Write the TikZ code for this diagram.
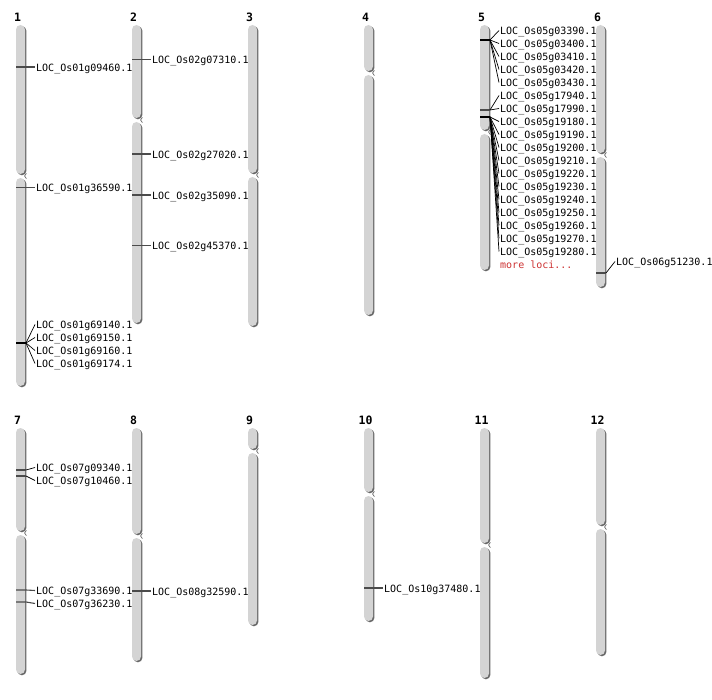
\documentclass[tikz,border=0pt]{standalone}
\usepackage{fontspec}
\setmonofont{DejaVu Sans Mono}
\definecolor{chrfill}{RGB}{212,212,212}
\definecolor{chrshadow}{RGB}{105,105,105}
\definecolor{tickc}{RGB}{75,75,75}
\definecolor{morered}{RGB}{205,50,50}
\newcommand\chrarm[3]{%
  \fill[chrshadow, rounded corners=4.5pt] (#1+1.4,#2+1.3) rectangle (#1+10.4,#3+1.3);
  \fill[chrfill, rounded corners=4.5pt] (#1,#2) rectangle (#1+9,#3);
}
\newcommand\chromo[5]{% name, x, top, cen, bottom
  \node[chrnum] (num#1) at (#2+1.5,#3-8) {#1};
  \chrarm{#2}{#3}{#4-2}
  \chrarm{#2}{#4+2}{#5}
  \draw[chrshadow, line width=0.7pt] (#2+10.4,#4-2.6) -- (#2+8.6,#4) -- (#2+10.4,#4+2.6);
}
\begin{document}
\begin{tikzpicture}[x=1pt,y=-1pt,
  chrnum/.style={anchor=center, inner sep=0pt, font=\ttfamily\bfseries\fontsize{11.5}{12}\selectfont},
  loclab/.style={anchor=west, inner xsep=1pt, inner ysep=0pt, text height=8.6pt, text depth=0pt,
                 font=\ttfamily\fontsize{10}{12}\selectfont},
  tickl/.style={draw=tickc, line width=1.1pt},
  multitick/.style={draw=black, line width=2pt},
  fan/.style={draw=black, line width=0.7pt}]
\useasboundingbox (0,0) rectangle (712,700);
\fill[white] (0,0) rectangle (712,700);

% ---------- chromosomes, row 1 ----------
\chromo{1}{16}{25}{176}{386}
\chromo{2}{132}{25}{120}{323}
\chromo{3}{248}{25}{175}{326}
\chromo{4}{364}{25}{73}{315}
\chromo{5}{480}{25}{132}{270}
\chromo{6}{596}{25}{155}{287}
% ---------- chromosomes, row 2 ----------
\chromo{7}{16}{428}{533}{674}
\chromo{8}{132}{428}{536}{661}
\chromo{9}{248}{428}{451}{625}
\chromo{10}{364}{428}{494}{621}
\chromo{11}{480}{428}{545}{678}
\chromo{12}{596}{428}{527}{655}

% ---------- chromosome 1 ----------
\coordinate (c1a) at (16,67);
\node[loclab] (l1a) at (35,67) {LOC\_Os01g09460.1};
\draw[tickl] (c1a) -- (l1a.west);
\coordinate (c1b) at (16,187.5);
\node[loclab] (l1b) at (35,187.5) {LOC\_Os01g36590.1};
\draw[tickl] (c1b) -- (l1b.west);
\coordinate (c1c) at (16,343);
\coordinate (c1cr) at (26,343);
\draw[multitick] (c1c) -- (c1cr);
\foreach \g [count=\i from 0] in {69140,69150,69160,69174}{
  \node[loclab] (l1c\i) at (35,324.5+13*\i) {LOC\_Os01g\g.1};
  \draw[fan] (c1cr) -- (l1c\i.west);
}

% ---------- chromosome 2 ----------
\foreach \t/\g [count=\i] in {59.5/07310,154/27020,195/35090,245.5/45370}{
  \coordinate (c2\i) at (132,\t);
  \node[loclab] (l2\i) at (151,\t) {LOC\_Os02g\g.1};
  \draw[tickl] (c2\i) -- (l2\i.west);
}

% ---------- chromosome 5 ----------
\coordinate (c5a) at (480,40);   \coordinate (c5ar) at (490,40);
\coordinate (c5b) at (480,110);  \coordinate (c5br) at (490,110);
\coordinate (c5c) at (480,117);  \coordinate (c5cr) at (490,117);
\draw[multitick] (c5a) -- (c5ar);
\draw[tickl] (c5b) -- (c5br);
\draw[multitick] (c5c) -- (c5cr);
\foreach \g [count=\i from 0] in {03390,03400,03410,03420,03430,17940,17990,19180,19190,19200,19210,19220,19230,19240,19250,19260,19270,19280}{
  \node[loclab] (l5\i) at (499,30.5+13*\i) {LOC\_Os05g\g.1};
}
\foreach \i in {0,...,4}{\draw[fan] (c5ar) -- (l5\i.west);}
\foreach \i in {5,6}{\draw[fan] (c5br) -- (l5\i.west);}
\foreach \i in {7,...,17}{\draw[fan] (c5cr) -- (l5\i.west);}
\node[loclab, text=morered] (l5more) at (499,264.5) {more loci...};

% ---------- chromosome 6 ----------
\coordinate (c6a) at (596,273); \coordinate (c6ar) at (606,273);
\node[loclab] (l6a) at (615,261.5) {LOC\_Os06g51230.1};
\draw[tickl] (c6a) -- (c6ar);
\draw[fan] (c6ar) -- (l6a.west);

% ---------- chromosome 7 ----------
\coordinate (c7a) at (16,470); \coordinate (c7ar) at (26,470);
\coordinate (c7b) at (16,476); \coordinate (c7br) at (26,476);
\node[loclab] (l7a) at (35,467.5) {LOC\_Os07g09340.1};
\node[loclab] (l7b) at (35,480.5) {LOC\_Os07g10460.1};
\draw[tickl] (c7a) -- (c7ar); \draw[fan] (c7ar) -- (l7a.west);
\draw[tickl] (c7b) -- (c7br); \draw[fan] (c7br) -- (l7b.west);
\coordinate (c7c) at (16,590); \coordinate (c7cr) at (26,590);
\coordinate (c7d) at (16,602); \coordinate (c7dr) at (26,602);
\node[loclab] (l7c) at (35,590.5) {LOC\_Os07g33690.1};
\node[loclab] (l7d) at (35,603.5) {LOC\_Os07g36230.1};
\draw[tickl] (c7c) -- (c7cr) -- (l7c.west);
\draw[tickl] (c7d) -- (c7dr) -- (l7d.west);

% ---------- chromosome 8 ----------
\coordinate (c8a) at (132,591);
\node[loclab] (l8a) at (151,591) {LOC\_Os08g32590.1};
\draw[tickl] (c8a) -- (l8a.west);

% ---------- chromosome 10 ----------
\coordinate (c10a) at (364,588);
\node[loclab] (l10a) at (383,588) {LOC\_Os10g37480.1};
\draw[tickl] (c10a) -- (l10a.west);
\end{tikzpicture}
\end{document}
